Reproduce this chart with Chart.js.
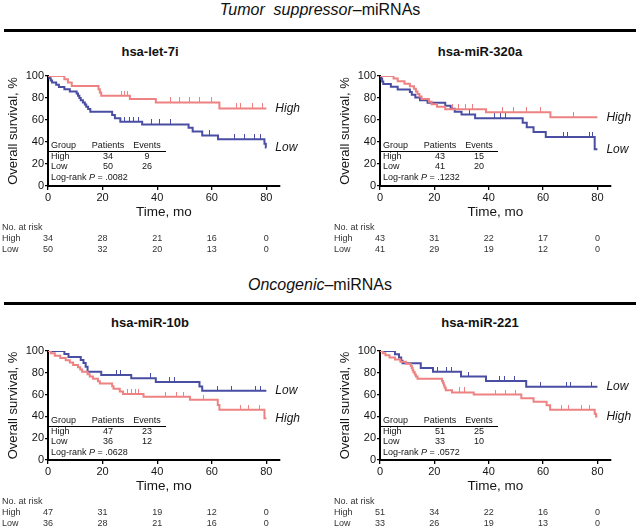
<!DOCTYPE html>
<html><head><meta charset="utf-8">
<script src="https://cdn.jsdelivr.net/npm/chart.js@4.4.1/dist/chart.umd.min.js"></script>
<style>
html,body{margin:0;padding:0;background:#fff;}
body{width:640px;height:528px;position:relative;overflow:hidden;font-family:"Liberation Sans",Arial,sans-serif;color:#111;}
.hdr{position:absolute;left:0;width:640px;text-align:center;font-size:16px;line-height:18px;}
.rule{position:absolute;left:4px;width:632px;height:2.5px;background:#000;}
.ttl{position:absolute;width:200px;text-align:center;font-weight:bold;font-size:13px;line-height:14px;}
canvas{position:absolute;}
</style></head><body>
<div class="hdr" style="top:1px"><i>Tumor&nbsp; suppressor</i>–miRNAs</div>
<div class="rule" style="top:29px"></div>
<div class="ttl" style="left:50px;top:45px">hsa-let-7i</div>
<div class="ttl" style="left:380px;top:45px">hsa-miR-320a</div>
<div class="hdr" style="top:276px"><i>Oncogenic</i>–miRNAs</div>
<div class="rule" style="top:302px"></div>
<div class="ttl" style="left:50px;top:316px">hsa-miR-10b</div>
<div class="ttl" style="left:380px;top:316px">hsa-miR-221</div>
<canvas id="c1" width="320" height="200" style="left:0;top:60px"></canvas>
<canvas id="c2" width="320" height="200" style="left:320px;top:60px"></canvas>
<canvas id="c3" width="320" height="193" style="left:0;top:335px"></canvas>
<canvas id="c4" width="320" height="193" style="left:320px;top:335px"></canvas>
<script>
// ---------- data ----------
const xTicks = [0, 20, 40, 60, 80];
const yTicks = [0, 20, 40, 60, 80, 100];
const riskTimes = [0, 20, 40, 60, 80];

// hsa-let-7i
const let7iHighT = [0, 6, 7.3, 8.7, 18.5, 19, 19.5, 30, 39.5, 62.8, 80];
const let7iHighS = [100, 97, 94, 91, 88, 85, 82, 79, 76, 70.5, 70.5];
const let7iHighCens = [27, 28, 29, 45, 48, 52, 55.5, 60, 69, 70.5, 75, 78.5];
const let7iLowT = [0, 0.5, 1, 1.5, 3, 4, 6, 8, 10.5, 11, 11.5, 12, 12.8, 13.5, 14, 14.7, 15.5, 23.5, 24.5, 26.5, 34.5, 51.5, 53, 56.5, 62.3, 79.3, 79.8, 80];
const let7iLowS = [100, 98, 96, 94, 92, 90, 88, 86, 84, 82, 80, 78, 76, 74, 72, 70, 67.5, 64.5, 61.5, 58.5, 56, 53, 49.5, 46, 42.5, 38.5, 35, 35];
const let7iLowCens = [28, 30, 31.5, 33, 38, 41, 45, 59, 68.5, 72, 75.5, 78];
const let7iRiskHigh = [34, 28, 21, 16, 0];
const let7iRiskLow = [50, 32, 20, 13, 0];
const let7iPatients = [34, 50];
const let7iEvents = [9, 26];
const let7iP = ".0082";

// hsa-miR-320a
const m320HighT = [0, 5, 6.5, 9, 11, 12.5, 13.2, 13.8, 14.5, 15.3, 18, 19, 21, 24, 39, 62.7, 80];
const m320HighS = [100, 97.7, 95.3, 93, 90.7, 88.4, 86, 83.7, 81.4, 79, 76.7, 74.4, 72, 69.8, 67, 62.4, 62.4];
const m320HighCens = [26.5, 29, 31.3, 34, 45, 49, 54, 59, 71.3];
const m320LowT = [0, 0.5, 0.8, 1.2, 4, 6.5, 11, 11.7, 13, 14.7, 17.5, 24, 26, 27.5, 30, 35, 52.5, 54, 56.5, 61, 79, 80];
const m320LowS = [100, 97.6, 95.1, 92.7, 90.2, 87.8, 85.4, 82.9, 80.5, 78, 75.6, 72.9, 70.3, 67.6, 65, 61.5, 57.5, 53.4, 49, 44.5, 33.4, 33.4];
const m320LowCens = [33, 42, 44.5, 46, 67.5, 69, 77, 78.2];
const m320RiskHigh = [43, 31, 22, 17, 0];
const m320RiskLow = [41, 29, 19, 12, 0];
const m320Patients = [43, 41];
const m320Events = [15, 20];
const m320P = ".1232";

// hsa-miR-10b
const m10bHighT = [0, 1, 2.5, 4.5, 6.5, 8, 9.2, 11, 11.8, 12.5, 14.5, 15.3, 16.5, 18.3, 19, 23.5, 24, 26.3, 27.5, 35, 52, 62.2, 62.8, 79.3, 80];
const m10bHighS = [100, 97.9, 95.7, 93.6, 91.5, 89.4, 87.2, 85.1, 83, 80.9, 78.7, 76.6, 74.5, 72.3, 70.2, 67.7, 65.3, 62.9, 60.5, 58, 55.3, 50.5, 46, 38.3, 38.3];
const m10bHighCens = [29, 30.5, 32, 33.3, 43, 47, 49.5, 57, 70.5, 73.5, 77.5];
const m10bLowT = [0, 6, 7.5, 12, 13, 13.8, 14.5, 19.5, 30.5, 39.5, 55.5, 56.5, 80];
const m10bLowS = [100, 97.2, 94.4, 91.7, 88.9, 85.5, 81, 78, 75, 71.5, 67.5, 63.5, 63.5];
const m10bLowCens = [25, 26.5, 37.5, 44.5, 46.5, 62, 67.3, 76, 77.8];
const m10bRiskHigh = [47, 31, 19, 12, 0];
const m10bRiskLow = [36, 28, 21, 16, 0];
const m10bPatients = [47, 36];
const m10bEvents = [23, 12];
const m10bP = ".0628";

// hsa-miR-221
const m221HighT = [0, 1, 2, 3.5, 5.5, 7.5, 9.5, 11.3, 11.7, 12, 12.3, 12.8, 13.2, 13.8, 22.8, 23.2, 23.5, 23.8, 24.2, 26.5, 34.5, 52, 56.5, 61.3, 62.6, 79, 79.5, 80];
const m221HighS = [100, 98, 96, 94.1, 92.2, 90.2, 88.2, 86.3, 84.3, 82.4, 80.4, 78.4, 76.5, 74.5, 72.5, 70.4, 68.3, 66.2, 64, 62, 60, 56.7, 53.5, 50.3, 46, 42.5, 39.8, 39.8];
const m221HighCens = [29.3, 31, 42.5, 46, 50, 66.8, 69.5, 74, 77];
const m221LowT = [0, 5.5, 7, 7.8, 8.3, 15, 19.5, 29.8, 39, 53.8, 80];
const m221LowS = [100, 97, 94, 91, 88.7, 84.5, 81, 76.5, 72.5, 67.3, 67.3];
const m221LowCens = [21, 24.6, 26.4, 32.7, 43.8, 45.7, 49.4, 59, 68.8, 70, 78];
const m221RiskHigh = [51, 34, 22, 16, 0];
const m221RiskLow = [33, 26, 19, 13, 0];
const m221Patients = [51, 33];
const m221Events = [25, 10];
const m221P = ".0572";

// ---------- drawing ----------
const FONT = '"Liberation Sans", Arial, Helvetica, sans-serif';
const PINK = '#EE8282';
const BLUE = '#4A4EA2';
const TXT = '#151515';

function km(t, s) { return t.map((v, i) => ({x: v, y: s[i]})); }
function stepAt(t, s, x) { let v = s[0]; for (let i = 0; i < t.length; i++) { if (t[i] <= x) v = s[i]; } return v; }
function cens(t, s, c) { return c.map(x => ({x: x, y: stepAt(t, s, x)})); }
function tickImg(color) {
  const c = document.createElement('canvas'); c.width = 1; c.height = 10;
  const g = c.getContext('2d'); g.fillStyle = color; g.fillRect(0, 0, 1, 5); return c;
}
const pinkTick = tickImg(PINK), blueTick = tickImg(BLUE);

const extras = {
  id: 'extras',
  afterDatasetsDraw(chart, args, o) {
    const ctx = chart.ctx, a = chart.chartArea, xs = chart.scales.x, ys = chart.scales.y;
    ctx.save();
    ctx.fillStyle = TXT;
    // end labels
    ctx.font = 'italic 12px ' + FONT; ctx.textAlign = 'left'; ctx.textBaseline = 'middle';
    ctx.fillText('High', xs.getPixelForValue(80) + 9, ys.getPixelForValue(o.highEnd));
    ctx.fillText('Low', xs.getPixelForValue(80) + 9, ys.getPixelForValue(o.lowEnd));
    // inset table
    ctx.font = '9px ' + FONT;
    const L = a.left, T = a.top;
    ctx.textAlign = 'left';
    ctx.fillText('Group', L + 3, T + 70);
    ctx.fillText('High', L + 3, T + 81);
    ctx.fillText('Low', L + 3, T + 91);
    ctx.textAlign = 'center';
    ctx.fillText('Patients', L + 60, T + 70);
    ctx.fillText('Events', L + 99, T + 70);
    ctx.fillText(String(o.patients[0]), L + 60, T + 81);
    ctx.fillText(String(o.events[0]), L + 99, T + 81);
    ctx.fillText(String(o.patients[1]), L + 60, T + 91);
    ctx.fillText(String(o.events[1]), L + 99, T + 91);
    ctx.textAlign = 'left';
    const s1 = 'Log-rank ', s2 = 'P', s3 = ' = ' + o.p;
    let xx = L + 3;
    ctx.fillText(s1, xx, T + 101.5); xx += ctx.measureText(s1).width;
    ctx.font = 'italic 9px ' + FONT; ctx.fillText(s2, xx, T + 101.5); xx += ctx.measureText(s2).width;
    ctx.font = '9px ' + FONT; ctx.fillText(s3, xx, T + 101.5);
    ctx.strokeStyle = '#000'; ctx.lineWidth = 1;
    ctx.beginPath(); ctx.moveTo(L + 1, T + 75.5); ctx.lineTo(L + 118, T + 75.5); ctx.stroke();
    // number at risk
    const B = a.bottom;
    ctx.fillStyle = '#333';
    ctx.font = '9px ' + FONT; ctx.textAlign = 'left';
    ctx.fillText('No. at risk', L - 46, B + 42);
    ctx.fillText('High', L - 46, B + 53);
    ctx.fillText('Low', L - 46, B + 64);
    ctx.textAlign = 'center';
    riskTimes.forEach((t, i) => {
      const px = xs.getPixelForValue(t);
      ctx.fillText(String(o.riskHigh[i]), px, B + 53);
      ctx.fillText(String(o.riskLow[i]), px, B + 64);
    });
    ctx.restore();
  }
};

function makePanel(id, padL, padR, padB, d) {
  new Chart(document.getElementById(id), {
    type: 'line',
    data: {
      datasets: [
        {data: km(d.hT, d.hS), borderColor: PINK, borderWidth: 2, stepped: true, pointRadius: 0, fill: false},
        {data: km(d.lT, d.lS), borderColor: BLUE, borderWidth: 2, stepped: true, pointRadius: 0, fill: false},
        {data: cens(d.hT, d.hS, d.hC), showLine: false, pointStyle: pinkTick, pointRadius: 3, borderColor: PINK, backgroundColor: PINK},
        {data: cens(d.lT, d.lS, d.lC), showLine: false, pointStyle: blueTick, pointRadius: 3, borderColor: BLUE, backgroundColor: BLUE}
      ]
    },
    options: {
      responsive: false, animation: false, devicePixelRatio: 1,
      layout: {padding: {left: padL, right: padR, top: 16, bottom: padB}},
      plugins: {
        legend: {display: false}, tooltip: {enabled: false}, title: {display: false},
        extras: {highEnd: d.hS[d.hS.length - 1], lowEnd: d.lS[d.lS.length - 1], patients: d.pat, events: d.ev, p: d.p, riskHigh: d.rH, riskLow: d.rL}
      },
      scales: {
        x: {
          type: 'linear', min: 0, max: 85,
          afterBuildTicks: s => { s.ticks = xTicks.map(v => ({value: v})); },
          afterFit: s => { s.height = 34; },
          grid: {display: true, drawOnChartArea: false, drawTicks: true, tickLength: 4, color: '#000', lineWidth: 1.3},
          border: {display: true, color: '#000', width: 2},
          ticks: {font: {size: 11, family: FONT}, color: TXT, padding: 1, maxRotation: 0, autoSkip: false},
          title: {display: true, text: 'Time, mo', font: {size: 13.5, family: FONT}, color: TXT, padding: {top: 2, bottom: 0}}
        },
        y: {
          type: 'linear', min: 0, max: 100,
          afterBuildTicks: s => { s.ticks = yTicks.map(v => ({value: v})); },
          afterFit: s => { s.width = 46; },
          grid: {display: true, drawOnChartArea: false, drawTicks: true, tickLength: 3, color: '#000', lineWidth: 1.3},
          border: {display: true, color: '#000', width: 2},
          ticks: {font: {size: 11, family: FONT}, color: TXT, padding: 1},
          title: {display: true, text: 'Overall survival, %', font: {size: 13, family: FONT}, color: TXT, padding: {top: 4, bottom: 0}}
        }
      }
    },
    plugins: [extras]
  });
}

makePanel('c1', 2, 40, 40, {hT: let7iHighT, hS: let7iHighS, hC: let7iHighCens, lT: let7iLowT, lS: let7iLowS, lC: let7iLowCens,
  rH: let7iRiskHigh, rL: let7iRiskLow, pat: let7iPatients, ev: let7iEvents, p: let7iP});
makePanel('c2', 14, 29, 40, {hT: m320HighT, hS: m320HighS, hC: m320HighCens, lT: m320LowT, lS: m320LowS, lC: m320LowCens,
  rH: m320RiskHigh, rL: m320RiskLow, pat: m320Patients, ev: m320Events, p: m320P});
makePanel('c3', 2, 40, 34, {hT: m10bHighT, hS: m10bHighS, hC: m10bHighCens, lT: m10bLowT, lS: m10bLowS, lC: m10bLowCens,
  rH: m10bRiskHigh, rL: m10bRiskLow, pat: m10bPatients, ev: m10bEvents, p: m10bP});
makePanel('c4', 14, 29, 34, {hT: m221HighT, hS: m221HighS, hC: m221HighCens, lT: m221LowT, lS: m221LowS, lC: m221LowCens,
  rH: m221RiskHigh, rL: m221RiskLow, pat: m221Patients, ev: m221Events, p: m221P});
</script>
</body></html>
